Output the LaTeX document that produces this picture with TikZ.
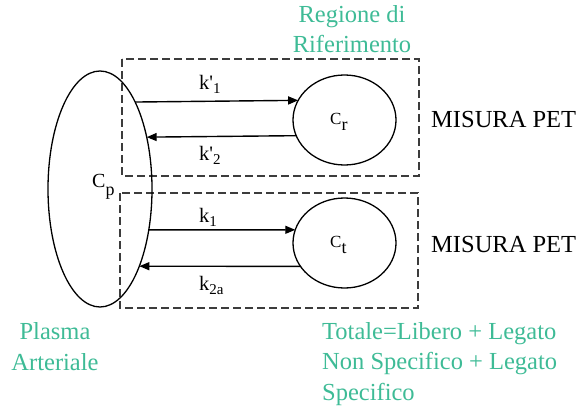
\documentclass[tikz,border=0pt]{standalone}
\usepackage{fontspec}
\setmainfont{Liberation Serif}
\usetikzlibrary{shapes.geometric,arrows.meta}
\definecolor{notegreen}{RGB}{62,187,150}
\definecolor{boxgray}{RGB}{60,60,60}
% font size helper and lowered subscript helper
\newcommand{\fs}[1]{\fontsize{#1}{#1}\selectfont}
\newcommand{\lowsub}[3]{\raisebox{-#1pt}{\fs{#2}#3}}

\begin{document}
\begin{tikzpicture}[x=1pt,y=-1pt,
  compartment/.style={draw,line width=1.3pt,ellipse,inner sep=0pt,outer sep=0pt},
  region/.style={draw=boxgray,line width=1.1pt,dash pattern=on 8pt off 4pt},
  flow/.style={line width=1.4pt,-{Triangle[length=10pt,width=8pt]}},
  note/.style={text=notegreen,font=\fontsize{24.5}{30.5}\selectfont,inner sep=0pt},
  meas/.style={font=\fs{24.5},inner sep=0pt,anchor=base west},
  rate/.style={font=\fs{20.5},inner sep=0pt,anchor=base west},
  conc/.style={inner sep=0pt,anchor=base west}]
\useasboundingbox (0,0) rectangle (577,409);

% measured regions
\draw[region] (122,59) rectangle (419,176);
\draw[region] (120,193) rectangle (418,308);

% compartments
\node[compartment,minimum width=104pt,minimum height=236pt] (cp) at (100,189) {};
\node[compartment,minimum width=103pt,minimum height=90pt] (cr) at (344.5,120) {};
\node[compartment,minimum width=103pt,minimum height=90pt] (ct) at (344.5,243) {};

\node[conc] (cplab) at (92,187) {\fs{20}C\lowsub{8}{18}{p}};
\node[conc] (crlab) at (330,124) {\fs{17}C\lowsub{6}{18}{r}};
\node[conc] (ctlab) at (330,247) {\fs{17}C\lowsub{6}{18}{t}};

% exchanges
\draw[flow] (cp.68.5) -- (cr.157.9);
\draw[flow] (cr.198.2) -- (cp.48.7);
\draw[flow] (cp.-40) -- (ct.165);
\draw[flow] (ct.208.8) -- (cp.-63.4);

\node[rate] (k1p) at (199,89) {k\textquotesingle\lowsub{4}{15}{1}};
\node[rate] (k2p) at (199,160) {k\textquotesingle\lowsub{4}{15}{2}};
\node[rate] (k1) at (199,222) {k\lowsub{4}{15}{1}};
\node[rate] (k2a) at (199,290) {k\lowsub{4}{15}{2a}};

% measurements
\node[meas] (pet1) at (431,127) {MISURA PET};
\node[meas] (pet2) at (431,252) {MISURA PET};

% notes (base anchor sits on the last line)
\node[note,align=center,anchor=base] (ref) at (352,53) {Regione di\\Riferimento};
\node[note,align=center,anchor=base] (plasma) at (55,370) {Plasma\\Arteriale};
\node[note,align=left,anchor=base west] (total) at (322,400)
  {Totale=Libero + Legato\\Non Specifico + Legato\\Specifico};
\end{tikzpicture}
\end{document}
